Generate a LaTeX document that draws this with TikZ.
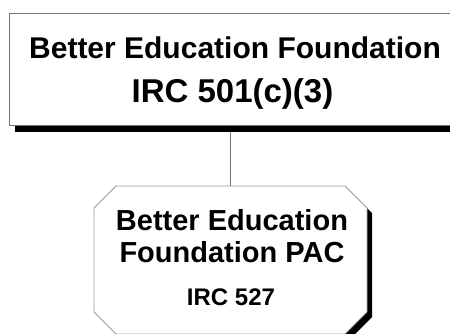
\documentclass[tikz,border=0pt]{standalone}
\usepackage{fontspec}
\setmainfont{Liberation Sans}
\begin{document}
\begin{tikzpicture}[x=1pt,y=-1pt,
  boxline/.style={draw=black!55,line width=0.9pt,fill=white},
  octline/.style={draw=black!40,line width=0.9pt,fill=white},
  shadowfill/.style={fill=black},
  link/.style={draw=black!55,line width=0.9pt},
  bigtxt/.style={font=\bfseries\fontsize{30}{36}\selectfont,anchor=base,inner sep=0pt},
  codetxt/.style={font=\bfseries\fontsize{33}{38}\selectfont,anchor=base,inner sep=0pt},
  midtxt/.style={font=\bfseries\fontsize{29}{34}\selectfont,anchor=base,inner sep=0pt},
  smalltxt/.style={font=\bfseries\fontsize{24}{28}\selectfont,anchor=base,inner sep=0pt}]
\useasboundingbox (0,0) rectangle (450,333);
\clip (0,0) rectangle (450,333);
% top box
\fill[shadowfill] (15,20) rectangle (467,132);
\path[boxline] (9,13) rectangle (461,125);
\coordinate (topbot) at (230,132);
\node[bigtxt] (t1) at (235,58) {Better Education Foundation};
\node[codetxt] (t2) at (232.5,102) {IRC 501(c)(3)};
% octagon
\fill[shadowfill] (121,191) -- (350,191) -- (372,213) -- (372,317) -- (350,339) -- (121,339) -- (99,317) -- (99,213) -- cycle;
\path[octline] (116,186) -- (345,186) -- (367,208) -- (367,312) -- (345,334) -- (116,334) -- (94,312) -- (94,208) -- cycle;
\coordinate (octtop) at (230,186);
\node[midtxt] (o1) at (232,230) {Better Education};
\node[midtxt] (o2) at (232,262) {Foundation PAC};
\node[smalltxt] (o3) at (231,305) {IRC 527};
% connector
\draw[link] (topbot) -- (octtop);
\end{tikzpicture}
\end{document}
